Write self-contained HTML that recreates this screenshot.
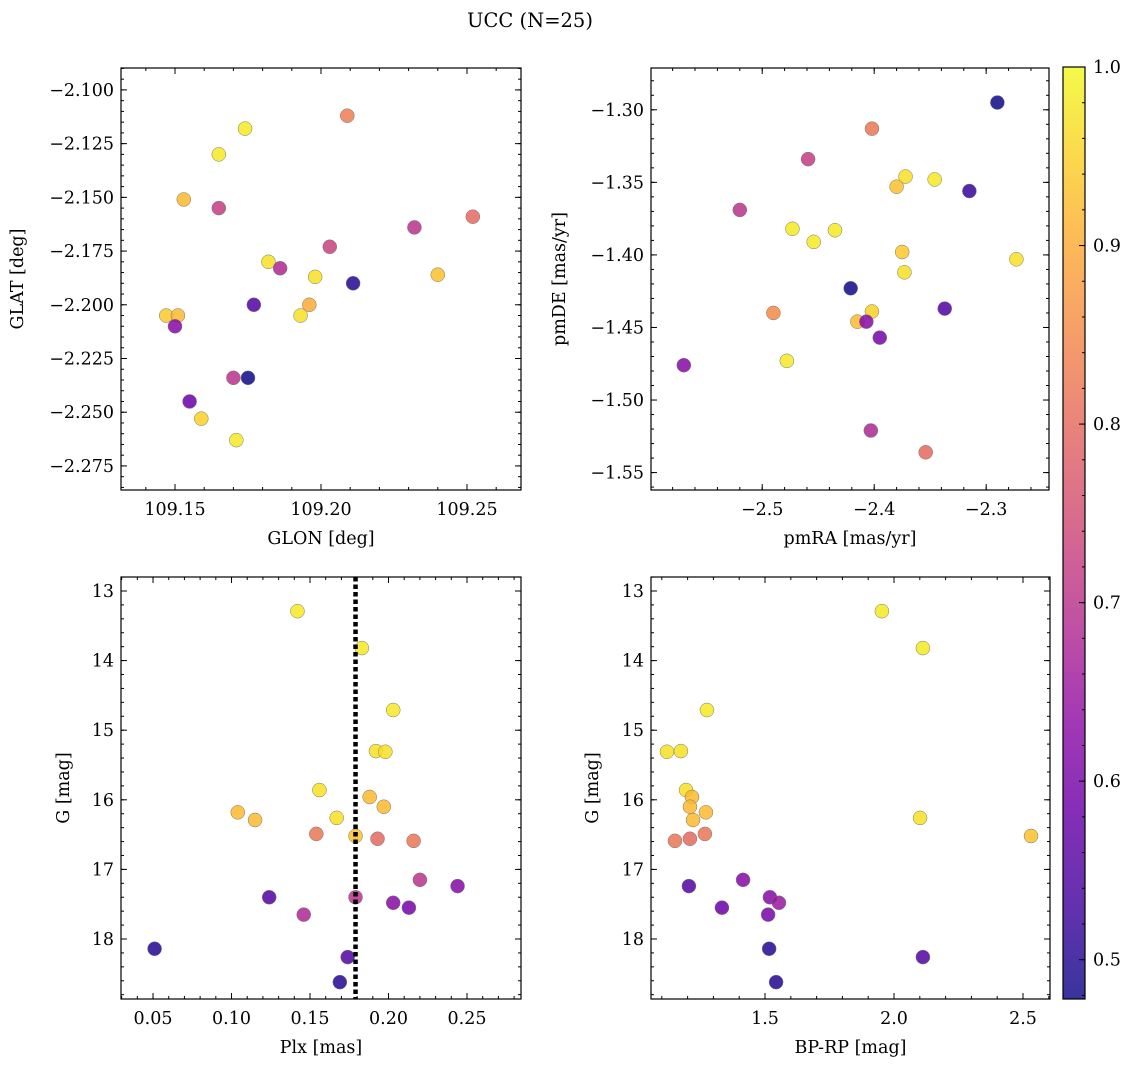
<!DOCTYPE html>
<html><head><meta charset="utf-8"><style>
html,body{margin:0;padding:0;background:#fff;}
svg{display:block;font-family:"DejaVu Serif","Liberation Serif",serif;}
</style></head><body>
<svg id="fig" width="1136" height="1067" viewBox="0 0 1136 1067">
<text x="530" y="27" font-size="19.5" text-anchor="middle">UCC (N=25)</text>
<defs><linearGradient id="cbg" x1="0" y1="1" x2="0" y2="0"></linearGradient></defs>
</svg>
<script>
// ---- data ----
const p1Glon=[109.174,109.209,109.165,109.153,109.165,109.252,109.232,109.203,109.182,109.186,109.198,109.240,109.211,109.177,109.196,109.193,109.147,109.151,109.150,109.170,109.175,109.155,109.159,109.171];
const p1Glat=[-2.118,-2.112,-2.130,-2.151,-2.155,-2.159,-2.164,-2.173,-2.180,-2.183,-2.187,-2.186,-2.190,-2.200,-2.200,-2.205,-2.205,-2.205,-2.210,-2.234,-2.234,-2.245,-2.253,-2.263];
const p1Prob=[0.98,0.83,0.98,0.92,0.72,0.80,0.70,0.73,0.97,0.68,0.97,0.93,0.50,0.55,0.90,0.97,0.94,0.92,0.62,0.70,0.48,0.58,0.95,0.98];
const p2PmRA=[-2.290,-2.402,-2.459,-2.372,-2.346,-2.380,-2.315,-2.520,-2.473,-2.435,-2.454,-2.375,-2.273,-2.373,-2.421,-2.337,-2.490,-2.402,-2.415,-2.407,-2.395,-2.570,-2.478,-2.403,-2.354];
const p2PmDE=[-1.295,-1.313,-1.334,-1.346,-1.348,-1.353,-1.356,-1.369,-1.382,-1.383,-1.391,-1.398,-1.403,-1.412,-1.423,-1.437,-1.440,-1.439,-1.446,-1.446,-1.457,-1.476,-1.473,-1.521,-1.536];
const p2Prob=[0.48,0.82,0.72,0.97,0.98,0.93,0.52,0.70,0.98,0.98,0.98,0.94,0.97,0.97,0.48,0.55,0.85,0.95,0.92,0.62,0.60,0.62,0.98,0.68,0.80];
const p3Plx=[0.142,0.183,0.203,0.192,0.198,0.156,0.188,0.197,0.104,0.167,0.115,0.154,0.179,0.193,0.216,0.220,0.244,0.124,0.179,0.203,0.213,0.146,0.051,0.174,0.169];
const p3G=[13.29,13.82,14.71,15.30,15.31,15.86,15.96,16.10,16.18,16.26,16.29,16.49,16.52,16.56,16.59,17.15,17.24,17.40,17.40,17.48,17.55,17.65,18.14,18.26,18.62];
const p3Prob=[0.98,0.98,0.98,0.97,0.97,0.97,0.92,0.92,0.92,0.97,0.92,0.82,0.93,0.80,0.82,0.70,0.62,0.55,0.70,0.62,0.60,0.68,0.50,0.55,0.50];
const plxMedian=0.179;
const p4BpRp=[1.953,2.112,1.275,1.120,1.174,1.194,1.217,1.209,1.271,2.101,1.221,1.267,2.531,1.209,1.151,1.415,1.205,1.519,1.554,1.333,1.512,1.516,2.112,1.543];
const p4G=[13.29,13.82,14.71,15.31,15.30,15.86,15.96,16.10,16.18,16.26,16.29,16.49,16.52,16.56,16.59,17.15,17.24,17.40,17.48,17.55,17.65,18.14,18.26,18.62];
const p4Prob=[0.98,0.98,0.98,0.97,0.97,0.97,0.92,0.92,0.92,0.97,0.92,0.82,0.93,0.80,0.82,0.62,0.55,0.62,0.65,0.58,0.60,0.50,0.55,0.50];
const p1XTicks=[109.15,109.20,109.25];
const p1YTicks=[-2.100,-2.125,-2.150,-2.175,-2.200,-2.225,-2.250,-2.275];
const p2XTicks=[-2.5,-2.4,-2.3];
const p2YTicks=[-1.30,-1.35,-1.40,-1.45,-1.50,-1.55];
const p3XTicks=[0.05,0.10,0.15,0.20,0.25];
const gTicks=[13,14,15,16,17,18];
const p4XTicks=[1.5,2.0,2.5];
const cbTicks=[0.5,0.6,0.7,0.8,0.9,1.0];
const probMin=0.478, probMax=1.0;

const FS=17.5;
const NS="http://www.w3.org/2000/svg";
const svg=document.getElementById('fig');
function mk(tag,attrs,parent){const e=document.createElementNS(NS,tag);for(const k in attrs)e.setAttribute(k,attrs[k]);(parent||svg).appendChild(e);return e;}
const plasma=[[13,8,135],[65,4,157],[106,0,168],[143,13,164],[177,42,144],[204,71,120],[225,100,98],[242,132,75],[252,166,54],[252,206,37],[240,249,33]];
function cmap(v){let t=(v-probMin)/(probMax-probMin);t=Math.max(0,Math.min(1,t))*10;const i=Math.min(9,Math.floor(t)),f=t-i;const a=plasma[i],b=plasma[i+1];return 'rgb('+a.map((c,j)=>Math.round(c+(b[j]-c)*f)).join(',')+')';}
function fmt(v,d){const s=Math.abs(v).toFixed(d);return (v<0?'\u2212':'')+s;}

function panel(o){
  const g=mk('g',{});
  
  
  const sx=v=>o.x0+(v-o.xmin)/(o.xmax-o.xmin)*(o.x1-o.x0);
  const sy=o.invert?(v=>o.y0+(v-o.ymin)/(o.ymax-o.ymin)*(o.y1-o.y0)):(v=>o.y1-(v-o.ymin)/(o.ymax-o.ymin)*(o.y1-o.y0));
  const tg=mk('g',{stroke:'#000','stroke-width':1},g);
  
  
  const eps=1e-9;
  function minor(step,lo,hi,fn){const s=Math.ceil((lo-eps)/step);for(let k=s;k*step<=hi+eps;k++)fn(k*step);}
  minor(o.xminor,o.xmin,o.xmax,v=>{const x=sx(v);mk('line',{x1:x,x2:x,y1:o.y1,y2:o.y1-3},tg);mk('line',{x1:x,x2:x,y1:o.y0,y2:o.y0+3},tg);});
  minor(o.yminor,o.ymin,o.ymax,v=>{const y=sy(v);mk('line',{x1:o.x0,x2:o.x0+3,y1:y,y2:y},tg);mk('line',{x1:o.x1,x2:o.x1-3,y1:y,y2:y},tg);});
  o.xt.forEach(v=>{const x=sx(v);mk('line',{x1:x,x2:x,y1:o.y1,y2:o.y1-6},tg);mk('line',{x1:x,x2:x,y1:o.y0,y2:o.y0+6},tg);
    const t=mk('text',{x:x,y:o.y1+25,'font-size':FS,'text-anchor':'middle'},g);t.textContent=fmt(v,o.xd);
    
    });
  o.yt.forEach(v=>{const y=sy(v);mk('line',{x1:o.x0,x2:o.x0+6,y1:y,y2:y},tg);mk('line',{x1:o.x1,x2:o.x1-6,y1:y,y2:y},tg);
    const t=mk('text',{x:o.x0-7,y:y+6,'font-size':FS,'text-anchor':'end'},g);t.textContent=fmt(v,o.yd);
    
    });
  const pg=mk('g',{},g);
  
  
  o.xs.forEach((xv,i)=>{const c=mk('circle',{cx:sx(xv),cy:sy(o.ys[i]),r:7,fill:cmap(o.c[i]),'fill-opacity':0.85,stroke:'#777','stroke-width':0.5},pg);
    
    });
  if(o.vline!==undefined){const x=sx(o.vline);const l=mk('line',{x1:x,x2:x,y1:o.y0,y2:o.y1,stroke:'#000','stroke-width':4.5,'stroke-dasharray':'4.5,3'},g);
    
    }
  const fr=mk('rect',{x:o.x0,y:o.y0,width:o.x1-o.x0,height:o.y1-o.y0,fill:'none',stroke:'#000','stroke-width':1.2},g);
  
  
  const xl=mk('text',{x:(o.x0+o.x1)/2,y:o.y1+54,'font-size':FS,'text-anchor':'middle'},g);xl.textContent=o.xlabel;
  
  
  const yc=(o.y0+o.y1)/2;
  const yl=mk('text',{x:o.ylx,y:yc,'font-size':FS,'text-anchor':'middle',transform:'rotate(-90 '+o.ylx+' '+yc+')'},g);yl.textContent=o.ylabel;
  
  
}
panel({name:'glon-glat-panel',x0:121,x1:521,y0:68,y1:490,xmin:109.1315,xmax:109.2685,ymin:-2.2862,ymax:-2.0898,xt:p1XTicks,yt:p1YTicks,xd:2,yd:3,xminor:0.01,yminor:0.005,xs:p1Glon,ys:p1Glat,c:p1Prob,xlabel:'GLON [deg]',ylabel:'GLAT [deg]',ylx:23});
panel({name:'pm-panel',x0:651,x1:1049,y0:68,y1:490,xmin:-2.5993,xmax:-2.2439,ymin:-1.5620,ymax:-1.2712,xt:p2XTicks,yt:p2YTicks,xd:1,yd:2,xminor:0.02,yminor:0.01,xs:p2PmRA,ys:p2PmDE,c:p2Prob,xlabel:'pmRA [mas/yr]',ylabel:'pmDE [mas/yr]',ylx:565});
panel({name:'plx-g-panel',x0:121,x1:521,y0:577,y1:999,invert:true,xmin:0.0296,xmax:0.2844,ymin:12.799,ymax:18.862,xt:p3XTicks,yt:gTicks,xd:2,yd:0,xminor:0.01,yminor:0.2,xs:p3Plx,ys:p3G,c:p3Prob,vline:plxMedian,xlabel:'Plx [mas]',ylabel:'G [mag]',ylx:69});
panel({name:'cmd-panel',x0:651,x1:1050,y0:577,y1:999,invert:true,xmin:1.0581,xmax:2.6046,ymin:12.799,ymax:18.862,xt:p4XTicks,yt:gTicks,xd:1,yd:0,xminor:0.1,yminor:0.2,xs:p4BpRp,ys:p4G,c:p4Prob,xlabel:'BP-RP [mag]',ylabel:'G [mag]',ylx:598});
const grad=document.getElementById('cbg');
for(let i=0;i<=10;i++){mk('stop',{offset:(i/10),'stop-color':'rgb('+plasma[i].join(',')+')'},grad);}
const cbx0=1063,cbx1=1085,cby0=67,cby1=999;
const cb=mk('g',{});


mk('rect',{x:cbx0,y:cby0,width:cbx1-cbx0,height:cby1-cby0,fill:'url(#cbg)','fill-opacity':0.82},cb);
const cy=v=>cby1-(v-probMin)/(probMax-probMin)*(cby1-cby0);
for(let k=24;k<=50;k++){const v=k*0.02;if(v<probMin-1e-9)continue;const y=cy(v);mk('line',{x1:cbx1,x2:cbx1-3,y1:y,y2:y,stroke:'#000'},cb);}
cbTicks.forEach(v=>{const y=cy(v);mk('line',{x1:cbx1,x2:cbx1-6,y1:y,y2:y,stroke:'#000'},cb);
  const t=mk('text',{x:cbx1+8,y:y+6,'font-size':FS},cb);t.textContent=v.toFixed(1);
  
  });
mk('rect',{x:cbx0,y:cby0,width:cbx1-cbx0,height:cby1-cby0,fill:'none',stroke:'#000','stroke-width':1.2},cb);
</script>
</body></html>
